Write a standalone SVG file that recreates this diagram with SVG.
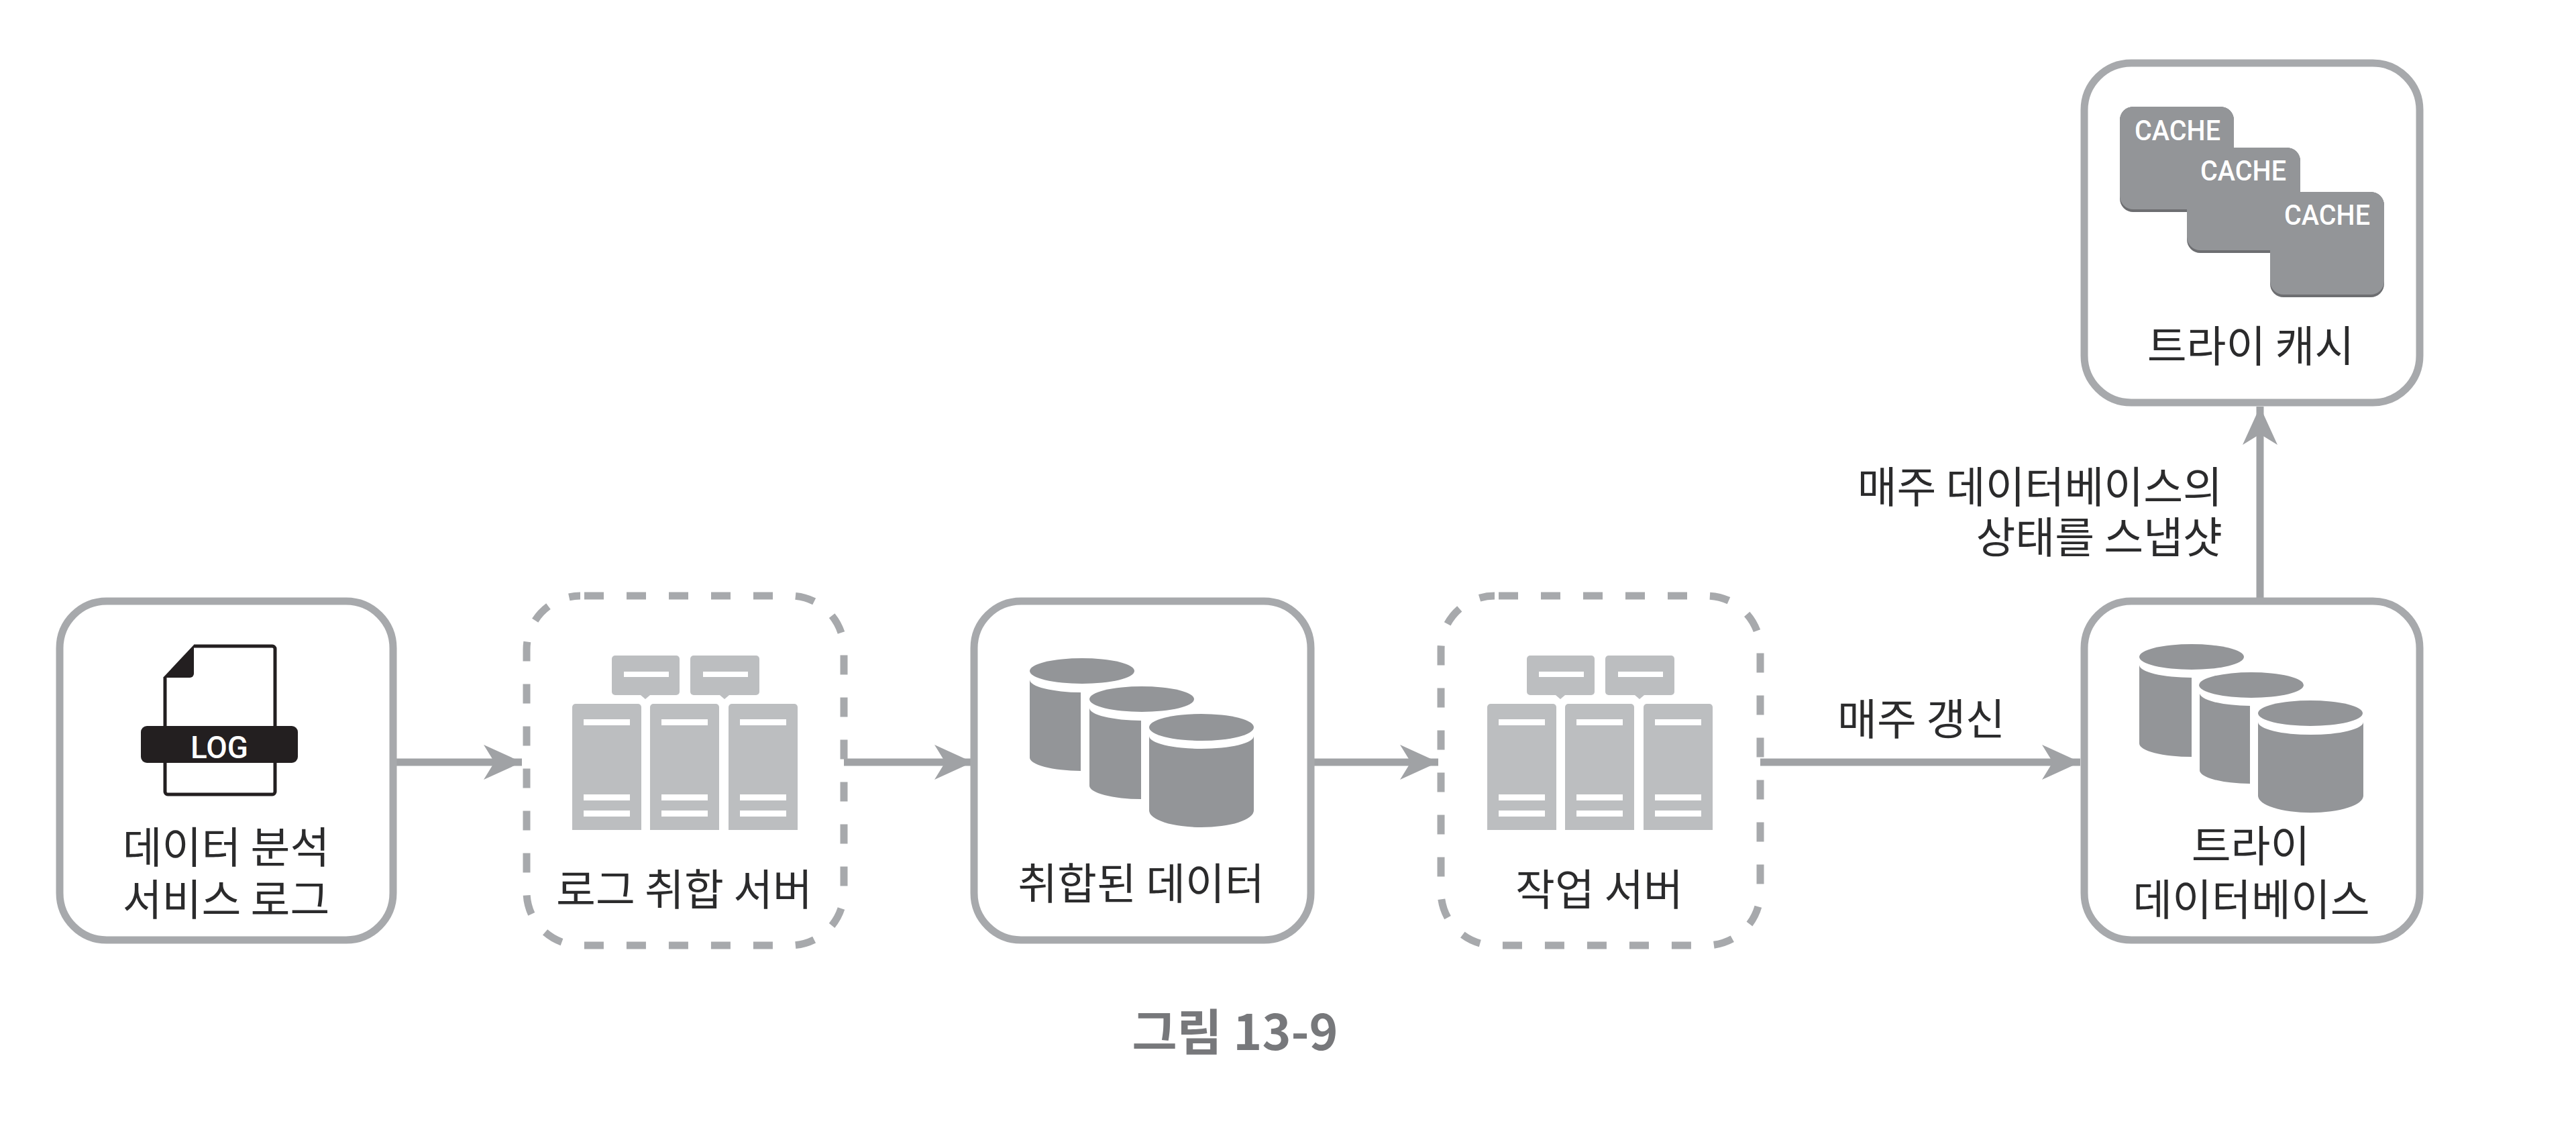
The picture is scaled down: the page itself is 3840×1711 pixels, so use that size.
<svg xmlns="http://www.w3.org/2000/svg" width="3840" height="1711" viewBox="0 0 3840 1711">
<style>
.t{font-family:"Noto Sans CJK KR","Noto Sans",sans-serif;font-size:64px;fill:#2b2b2c;text-anchor:middle}
.box{fill:#fff;stroke:#a7a9ac;stroke-width:11}
.dash{fill:#fff;stroke:#a7a9ac;stroke-width:11;stroke-dasharray:29 34;stroke-dashoffset:-6}
.cyl{fill:#939598}
.srv{fill:#bcbec0}
.bar{fill:#fff}
.line{stroke:#a0a2a5;stroke-width:11;fill:none}
.head{fill:#a0a2a5}
.cache{font-family:Roboto,"Liberation Sans",sans-serif;font-weight:500;font-size:42px;fill:#fff;text-anchor:middle}
</style>
<defs>
<g id="server">
<rect class="srv" x="59" y="0" width="101" height="59" rx="5"/><path class="srv" d="M102 59h14l-7 6z"/>
<rect class="srv" x="176" y="0" width="103" height="59" rx="5"/><path class="srv" d="M220 59h14l-7 6z"/>
<rect class="bar" x="77" y="24" width="67" height="8"/><rect class="bar" x="195" y="24" width="67" height="8"/>
<path class="srv" d="M0 77a5 5 0 0 1 5-5h93a5 5 0 0 1 5 5v183H0z"/>
<path class="srv" d="M116 77a5 5 0 0 1 5-5h93a5 5 0 0 1 5 5v183H116z"/>
<path class="srv" d="M233 77a5 5 0 0 1 5-5h93a5 5 0 0 1 5 5v183H233z"/>
<g class="bar">
<rect x="17" y="95" width="69" height="9"/><rect x="17" y="207" width="69" height="9"/><rect x="17" y="231" width="69" height="9"/>
<rect x="133" y="95" width="69" height="9"/><rect x="133" y="207" width="69" height="9"/><rect x="133" y="231" width="69" height="9"/>
<rect x="250" y="95" width="69" height="9"/><rect x="250" y="207" width="69" height="9"/><rect x="250" y="231" width="69" height="9"/>
</g>
</g>
<marker id="arrow" markerUnits="userSpaceOnUse" markerWidth="60" markerHeight="52" refX="57" refY="26" orient="auto"><path class="head" d="M0 0L57 26L0 52L16 26z"/></marker>
</defs>

<g id="connectors">
<path class="line" d="M591 1136H778" marker-end="url(#arrow)"/>
<path class="line" d="M1258 1136H1450" marker-end="url(#arrow)"/>
<path class="line" d="M1958 1136H2144" marker-end="url(#arrow)"/>
<path class="line" d="M2624 1136H3101" marker-end="url(#arrow)"/>
<path class="line" d="M3369 892V606" marker-end="url(#arrow)"/>
</g>

<g id="node-log">
<rect class="box" x="89" y="896" width="497" height="505" rx="70"/>
<path d="M289 963H406a4 4 0 0 1 4 4V1082M410 1137V1180a4 4 0 0 1-4 4H250a4 4 0 0 1-4-4V1137M246 1082V1010" fill="none" stroke="#231f20" stroke-width="5"/>
<path d="M289 961V1004a6 6 0 0 1-6 6H243z" fill="#231f20"/>
<rect x="210" y="1082" width="234" height="55" rx="9" fill="#231f20"/>
<text x="327" y="1130" font-family="Roboto,'Liberation Sans',sans-serif" font-size="46" font-weight="500" fill="#fff" text-anchor="middle" textLength="86" lengthAdjust="spacingAndGlyphs">LOG</text>
<text class="t" x="337" y="1286">데이터 분석</text>
<text class="t" x="337" y="1364">서비스 로그</text>
</g>

<g id="node-log-aggregator">
<rect class="dash" x="785" y="888" width="473" height="521" rx="80"/>
<use href="#server" x="853" y="977"/>
<text class="t" x="1020" y="1349">로그 취합 서버</text>
</g>

<g id="node-aggregated-data">
<rect class="box" x="1452" y="896" width="502" height="505" rx="70"/>
<path class="cyl" d="M1535 1013A78 19 0 0 0 1611 1032V1149A78 20 0 0 1 1535 1129z"/>
<ellipse class="cyl" cx="1613" cy="1000" rx="78" ry="19"/>
<path class="cyl" d="M1624 1055A78 19 0 0 0 1701 1074V1191A78 20 0 0 1 1624 1171z"/>
<ellipse class="cyl" cx="1702" cy="1042" rx="78" ry="19"/>
<path class="cyl" d="M1713 1097A78 19 0 0 0 1869 1097V1208A78 25 0 0 1 1713 1208z"/>
<ellipse class="cyl" cx="1791" cy="1084" rx="78" ry="20"/>
<text class="t" x="1701" y="1340">취합된 데이터</text>
</g>

<g id="node-worker">
<rect class="dash" x="2148" y="888" width="476" height="521" rx="80"/>
<use href="#server" x="2217" y="977"/>
<text class="t" x="2384" y="1349">작업 서버</text>
</g>

<g id="node-trie-db">
<rect class="box" x="3107" y="896" width="500" height="505" rx="70"/>
<path class="cyl" d="M3189 991A78 19 0 0 0 3267 1010V1128A78 20 0 0 1 3189 1108z"/>
<ellipse class="cyl" cx="3267" cy="979" rx="78" ry="19"/>
<path class="cyl" d="M3279 1033A78 19 0 0 0 3354 1052V1168A78 20 0 0 1 3279 1148z"/>
<ellipse class="cyl" cx="3356" cy="1021" rx="78" ry="19"/>
<path class="cyl" d="M3366 1076A78 19 0 0 0 3523 1076V1186A78 25 0 0 1 3366 1186z"/>
<ellipse class="cyl" cx="3444" cy="1063" rx="78" ry="19"/>
<text class="t" x="3355" y="1284">트라이</text>
<text class="t" x="3356" y="1364">데이터베이스</text>
</g>

<g id="node-trie-cache">
<rect class="box" x="3107" y="94" width="500" height="506" rx="70"/>
<path fill="#6d6e71" d="M3180 159H3310a20 20 0 0 1 20 20V220H3409a20 20 0 0 1 20 20V286H3534a20 20 0 0 1 20 20V423a20 20 0 0 1-20 20H3404a20 20 0 0 1-20-20V377H3280a20 20 0 0 1-20-20V316H3180a20 20 0 0 1-20-20V179a20 20 0 0 1 20-20z"/>
<path fill="#939598" d="M3180 159H3310a20 20 0 0 1 20 20V220H3409a20 20 0 0 1 20 20V286H3534a20 20 0 0 1 20 20V419a20 20 0 0 1-20 20H3404a20 20 0 0 1-20-20V373H3280a20 20 0 0 1-20-20V312H3180a20 20 0 0 1-20-20V179a20 20 0 0 1 20-20z"/>
<text class="cache" x="3246" y="209" textLength="128" lengthAdjust="spacingAndGlyphs">CACHE</text>
<text class="cache" x="3344" y="269" textLength="128" lengthAdjust="spacingAndGlyphs">CACHE</text>
<text class="cache" x="3469" y="335" textLength="128" lengthAdjust="spacingAndGlyphs">CACHE</text>
<text class="t" x="3355" y="539">트라이 캐시</text>
</g>

<g id="labels">
<text class="t" x="3313" y="749" style="text-anchor:end">매주 데이터베이스의</text>
<text class="t" x="3313" y="824" style="text-anchor:end">상태를 스냅샷</text>
<text class="t" x="2864" y="1095">매주 갱신</text>
<text x="1841" y="1565" font-family="'Noto Sans CJK KR','Noto Sans',sans-serif" font-size="73" font-weight="700" fill="#77787b" text-anchor="middle">그림 13-9</text>
</g>
</svg>
